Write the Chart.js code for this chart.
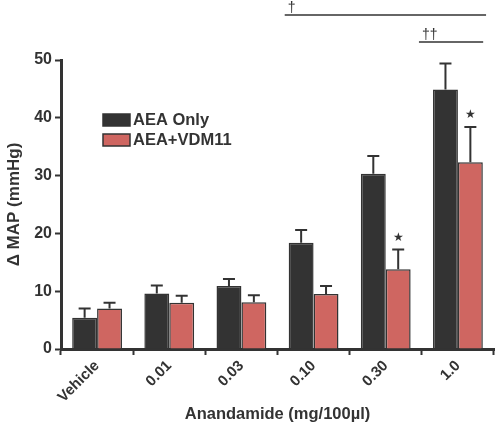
<!DOCTYPE html>
<html><head><meta charset="utf-8">
<script src="https://cdn.jsdelivr.net/npm/chart.js@4/dist/chart.umd.min.js"></script>
<style>html,body{margin:0;padding:0;background:#fff}#wrap{width:497px;height:425px}</style>
</head><body><div id="wrap"><canvas id="c" width="497" height="425"></canvas></div>
<script>
const categories = ['Vehicle','0.01','0.03','0.10','0.30','1.0'];
const seriesNames = ['AEA Only','AEA+VDM11'];
const aeaOnly = [5.4, 9.6, 10.9, 18.4, 30.3, 44.9];
const aeaOnlyErr = [1.6, 1.4, 1.2, 2.2, 3.1, 4.5];
const aeaVdm = [7.0, 8.0, 8.1, 9.5, 13.8, 32.3];
const aeaVdmErr = [1.0, 1.2, 1.2, 1.4, 3.4, 6.1];
const yTicks = [0, 10, 20, 30, 40, 50];
// significance annotations: [fromIndex, toIndex, yValue, label]
const sigFrom = [2.6, 4.46];
const sigTo = [5.39, 5.35];
const sigY = [57.8, 53.1];
const sigLabel = ['\u2020', '\u2020\u2020'];
const starCats = [4, 5];

const DARK = '#333333', RED = '#cf6661';
const FONT = "'Liberation Sans', Arial, sans-serif";

const overlay = {
  id: 'overlay',
  afterDatasetsDraw(chart) {
    const ctx = chart.ctx, x = chart.scales.x, y = chart.scales.y;
    ctx.save();
    ctx.strokeStyle = DARK; ctx.lineWidth = 2;
    const errs = [aeaOnlyErr, aeaVdmErr];
    chart.data.datasets.forEach((ds, di) => {
      const meta = chart.getDatasetMeta(di);
      meta.data.forEach((bar, i) => {
        const top = y.getPixelForValue(ds.data[i]);
        const et = y.getPixelForValue(ds.data[i] + errs[di][i]);
        ctx.beginPath();
        ctx.moveTo(bar.x, top); ctx.lineTo(bar.x, et);
        ctx.moveTo(bar.x - 6, et); ctx.lineTo(bar.x + 6, et);
        ctx.stroke();
      });
    });
    // stars
    ctx.fillStyle = DARK; ctx.font = '12px ' + FONT; ctx.textAlign = 'center'; ctx.textBaseline = 'middle';
    const m1 = chart.getDatasetMeta(1);
    starCats.forEach(i => {
      const et = y.getPixelForValue(aeaVdm[i] + aeaVdmErr[i]);
      ctx.fillText('\u2605', m1.data[i].x, et - 12);
    });
    // significance lines
    ctx.lineWidth = 1.5; ctx.textAlign = 'left'; ctx.textBaseline = 'alphabetic';
    ctx.font = '14px ' + FONT;
    sigFrom.forEach((f, k) => {
      const x0 = x.getPixelForValue(f), x1 = x.getPixelForValue(sigTo[k]);
      const yy = y.getPixelForValue(sigY[k]);
      ctx.beginPath(); ctx.moveTo(x0, yy); ctx.lineTo(x1, yy); ctx.stroke();
      ctx.fillText(sigLabel[k], x0 + 3, yy - 3);
    });
    // legend
    const colors = [DARK, RED];
    ctx.font = 'bold 16.5px ' + FONT; ctx.textBaseline = 'middle';
    seriesNames.forEach((n, k) => {
      const ly = 120 + k * 20;
      ctx.fillStyle = colors[k]; ctx.fillRect(103, ly - 6, 27, 12);
      ctx.strokeStyle = DARK; ctx.lineWidth = 1.5; ctx.strokeRect(103, ly - 6, 27, 12);
      ctx.fillStyle = DARK; ctx.fillText(n, 133, ly);
    });
    ctx.restore();
  }
};

new Chart(document.getElementById('c'), {
  type: 'bar',
  data: {
    labels: categories,
    datasets: [
      { label: seriesNames[0], data: aeaOnly, backgroundColor: DARK, borderColor: DARK, borderWidth: 1.5 },
      { label: seriesNames[1], data: aeaVdm, backgroundColor: RED, borderColor: DARK, borderWidth: 1.5 }
    ]
  },
  options: {
    responsive: false, animation: false,
    layout: { padding: { top: 60, right: 3, left: 0, bottom: 0 } },
    plugins: { legend: { display: false }, tooltip: { enabled: false } },
    datasets: { bar: { categoryPercentage: 0.69, barPercentage: 1.0 } },
    scales: {
      x: {
        grid: { display: true, drawOnChartArea: false, drawTicks: true, tickLength: 6, tickColor: DARK, tickWidth: 2 },
        border: { color: DARK, width: 3 },
        ticks: { color: DARK, font: { family: FONT, size: 15, weight: 'bold' }, minRotation: 45, maxRotation: 45, padding: 2 },
        title: { display: true, text: 'Anandamide (mg/100\u00b5l)', color: DARK, font: { family: FONT, size: 16.5, weight: 'bold' }, padding: { top: 0, bottom: 1 } },
        afterFit(s) { s.height = 76; }
      },
      y: {
        min: 0, max: 50,
        afterBuildTicks(s) { s.ticks = yTicks.map(v => ({ value: v })); },
        grid: { display: true, drawOnChartArea: false, drawTicks: true, tickLength: 6, tickColor: DARK, tickWidth: 2 },
        border: { color: DARK, width: 3 },
        ticks: { color: DARK, font: { family: FONT, size: 16, weight: 'bold' }, padding: 3 },
        title: { display: true, text: '\u0394 MAP (mmHg)', color: DARK, font: { family: FONT, size: 17, weight: 'bold' }, padding: { top: 4, bottom: 0 } },
        afterFit(s) { s.width = 61; }
      }
    }
  },
  plugins: [overlay]
});
</script></body></html>
